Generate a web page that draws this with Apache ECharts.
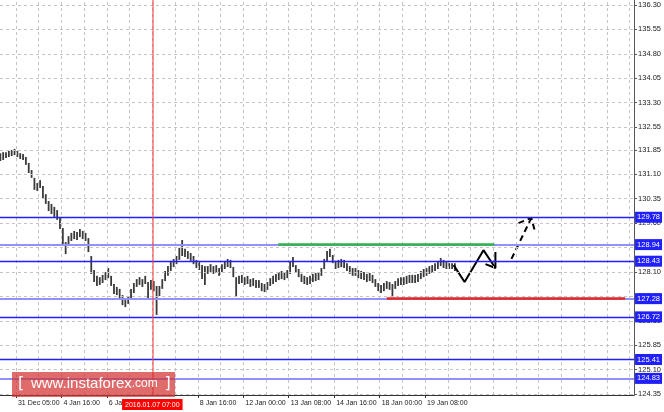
<!DOCTYPE html>
<html><head><meta charset="utf-8">
<script src="https://cdn.jsdelivr.net/npm/echarts@6/dist/echarts.min.js"></script>
<style>html,body{margin:0;padding:0;background:#fff}#c{width:664px;height:412px}</style>
</head><body><div id="c"></div>
<script>
// ---- data ----
const yTickValues = [136.30,135.55,134.80,134.05,133.30,132.55,131.85,131.10,130.35,129.60,128.85,128.10,127.35,126.60,125.85,125.10,124.35];
const xTickBars = [32,64,96,160,192,224,256,288,320];
const xTickLabels = ['31 Dec 05:00','4 Jan 16:00','6 Jan 00:00','8 Jan 16:00','12 Jan 00:00','13 Jan 08:00','14 Jan 16:00','18 Jan 00:00','19 Jan 08:00'];
const xGridBars = [32,48,64,80,96,112,128,144,160,176,192,208,224,240,256,272,288,304,320,336,352,368,384,400,416,432,448,464];
const firstBar = 21, barStep = 2;
const barHighs = [131.75,131.78,131.78,131.82,131.85,131.88,131.82,131.75,131.72,131.63,
131.45,131.23,130.99,130.83,130.92,130.74,130.49,130.28,130.19,130.10,
130.00,129.79,129.45,129.02,129.20,129.30,129.36,129.33,129.42,129.36,
129.30,129.14,128.59,128.16,127.98,127.94,128.01,128.10,128.22,127.98,
127.73,127.64,127.58,127.39,127.27,127.36,127.58,127.76,127.88,127.94,
127.88,127.98,127.79,127.85,127.82,127.67,127.67,127.88,128.13,128.28,
128.44,128.50,128.59,128.84,129.08,128.81,128.74,128.68,128.59,128.47,
128.41,128.31,128.28,128.28,128.34,128.28,128.31,128.22,128.34,128.44,
128.50,128.47,128.25,127.94,127.98,128.01,127.94,127.98,127.88,127.91,
127.85,127.85,127.76,127.73,127.79,127.91,127.98,128.04,128.10,128.13,
128.10,128.16,128.41,128.56,128.31,128.19,128.04,127.98,127.94,127.98,
128.04,128.07,128.10,128.22,128.50,128.74,128.81,128.62,128.44,128.47,
128.50,128.47,128.37,128.28,128.22,128.22,128.16,128.13,128.10,128.04,
128.07,128.01,127.88,127.76,127.70,127.76,127.82,127.79,127.73,127.82,
127.91,127.94,127.94,127.98,128.01,128.01,128.01,128.04,128.13,128.19,
128.22,128.28,128.31,128.37,128.44,128.53,128.47,128.44,128.37,128.37,
128.37];
const barLows = [131.51,131.54,131.60,131.63,131.66,131.69,131.63,131.57,131.54,131.39,
131.14,130.99,130.62,130.59,130.68,130.37,130.19,129.97,129.88,129.79,
129.70,129.42,128.96,128.65,128.90,129.05,129.11,129.08,129.17,129.11,
129.05,128.71,128.04,127.79,127.67,127.70,127.76,127.85,127.91,127.67,
127.42,127.39,127.27,127.08,127.02,127.12,127.27,127.45,127.64,127.70,
127.64,127.73,127.24,127.55,127.51,126.78,127.36,127.58,127.82,127.98,
128.13,128.25,128.34,128.47,128.59,128.56,128.50,128.44,128.34,128.22,
128.16,127.88,127.70,128.04,128.10,128.04,128.07,127.98,128.10,128.19,
128.25,128.22,127.94,127.33,127.73,127.76,127.70,127.73,127.64,127.67,
127.61,127.61,127.51,127.48,127.55,127.67,127.73,127.79,127.85,127.88,
127.85,127.91,128.04,128.25,128.07,127.94,127.79,127.73,127.70,127.73,
127.79,127.82,127.85,127.98,128.19,128.44,128.56,128.37,128.19,128.22,
128.25,128.22,128.13,128.04,127.98,127.98,127.91,127.88,127.85,127.79,
127.82,127.76,127.64,127.51,127.45,127.51,127.58,127.55,127.33,127.58,
127.67,127.70,127.70,127.73,127.76,127.76,127.76,127.79,127.88,127.94,
127.98,128.04,128.07,128.13,128.19,128.28,128.22,128.19,128.19,128.19,
128.13];
const levelValues = [129.78, 128.94, 128.43, 127.28, 126.72, 125.41, 124.83];
const levelLight  = [false, true, false, true, false, false, true];
const currentPrice = 128.13;
const resistance = {price:128.94, from:216.6, to:368.8};
const support = {price:127.28, from:293, to:460.8};
const markerBar = 128, markerLabel = '2016.01.07 07:00';
const zigzag = [[340.1,128.31],[347.8,127.79],[361.1,128.77],[369.5,128.22]];
const zigzagHead = [[369.5,128.71],[369.5,128.22],[362.5,128.34]];
const dashArrow = [[380.8,128.50],[394.8,129.76]];
const dashHead = [[385.7,129.60],[394.8,129.76],[397.6,129.30]];

// ---- chart ----
const FONT = 'Liberation Sans';
const chart = echarts.init(document.getElementById('c'), null, {renderer:'canvas'});
const bars = barHighs.map((h,k)=>[firstBar + barStep*k, h, barLows[k]]);
const gridLines = xGridBars.map(v=>({xAxis:v})).concat(yTickValues.map(v=>({yAxis:v})));
const levelLines = levelValues.map((v,i)=>({
  yAxis:v,
  lineStyle:{color: levelLight[i] ? '#9090ff' : '#2020ff', width: levelLight[i] ? 2 : 1.4, type:'solid'},
  label:{show:true, position:'end', distance:1, formatter: v.toFixed(2), backgroundColor:'#1f1fff', color:'#fff',
         fontSize:7.5, fontFamily:FONT, padding:[2,2,1,2], lineHeight:8}
}));
levelLines.push({
  yAxis: currentPrice, lineStyle:{opacity:0},
  label:{show:true, position:'end', distance:1, formatter: currentPrice.toFixed(2), backgroundColor:'#000', color:'#fff',
         fontSize:7.5, fontFamily:FONT, padding:[2,2,1,2], lineHeight:8}
});
const lineSer = (data, dashed, z) => ({
  type:'line', data, symbol:'none', silent:true, z,
  lineStyle:{color:'#000', width:2, type: dashed ? [6,4] : 'solid'}
});

chart.setOption({
  animation:false,
  backgroundColor:'#fff',
  grid:{left:0, right:28, top:0, bottom:17, containLabel:false},
  xAxis:{type:'value', min:20.77, max:467.1,
    axisLine:{show:true, lineStyle:{color:'#333', width:1}},
    axisTick:{show:true, customValues:xTickBars, length:3, lineStyle:{color:'#333'}},
    axisLabel:{customValues:xTickBars, align:'left', margin:5, padding:[0,0,0,2], fontSize:7, fontFamily:FONT, color:'#222',
      formatter:v=>{const i=xTickBars.indexOf(v); return i>=0?xTickLabels[i]:'';}},
    splitLine:{show:false}},
  yAxis:{type:'value', position:'right', min:124.32, max:136.454,
    axisLine:{show:true, lineStyle:{color:'#555', width:1}},
    axisTick:{show:true, customValues:yTickValues, length:3, lineStyle:{color:'#555'}},
    axisLabel:{customValues:yTickValues, margin:4, fontSize:7.5, fontFamily:FONT, color:'#222',
      formatter:v=>v.toFixed(2)},
    splitLine:{show:false}},
  series:[
    {type:'line', data:[], silent:true, z:1,
     markLine:{silent:true, symbol:['none','none'], animation:false, label:{show:false},
       lineStyle:{color:'#c4c4c4', type:[3,3], width:1}, data:gridLines}},
    {type:'line', data:[], silent:true, z:2,
     markLine:{silent:true, symbol:['none','none'], animation:false, data:levelLines.concat([
       [{coord:[resistance.from,resistance.price]},{coord:[resistance.to,resistance.price],
         lineStyle:{color:'#2fb34a', width:2.5, type:'solid'}, label:{show:false}}],
       [{coord:[support.from,support.price]},{coord:[support.to,support.price],
         lineStyle:{color:'#e82424', width:2.5, type:'solid'}, label:{show:false}}],
       {xAxis:markerBar, lineStyle:{color:'rgba(240,70,70,0.75)', width:1.5, type:'solid'},
        label:{show:true, position:'start', distance:4, formatter:markerLabel, backgroundColor:'#ff0000', color:'#fff',
          fontSize:7, fontFamily:FONT, padding:[2,3,1,3], lineHeight:8}}
     ])}},
    {type:'custom', data:bars, z:3, silent:true,
     renderItem:(params, api)=>{
       const p1 = api.coord([api.value(0), api.value(1)]);
       const p2 = api.coord([api.value(0), api.value(2)]);
       return {type:'line', shape:{x1:p1[0], y1:p1[1], x2:p2[0], y2:p2[1]},
               style:{stroke:'#3a3a3a', lineWidth:1.8}};
     }},
    lineSer(zigzag,false,4), lineSer(zigzagHead,false,4),
    lineSer(dashArrow,true,4), lineSer(dashHead,true,4)
  ],
  graphic:[
    {type:'rect', left:12, top:372, z:100, shape:{width:163, height:25},
     style:{fill:'rgba(210,50,50,0.72)'}},
    {type:'text', left:18, top:376, z:101,
     style:{text:'{a|[}  {b|www.instaforex}{c|.com}  {a|]}', fill:'#fff',
       rich:{a:{fontSize:16, fontFamily:'DejaVu Sans', fill:'#fff'},
             b:{fontSize:15, fontFamily:'Liberation Sans', fill:'#fff'},
             c:{fontSize:12, fontFamily:'Liberation Sans', fill:'#fff'}}}}
  ]
});
</script></body></html>
